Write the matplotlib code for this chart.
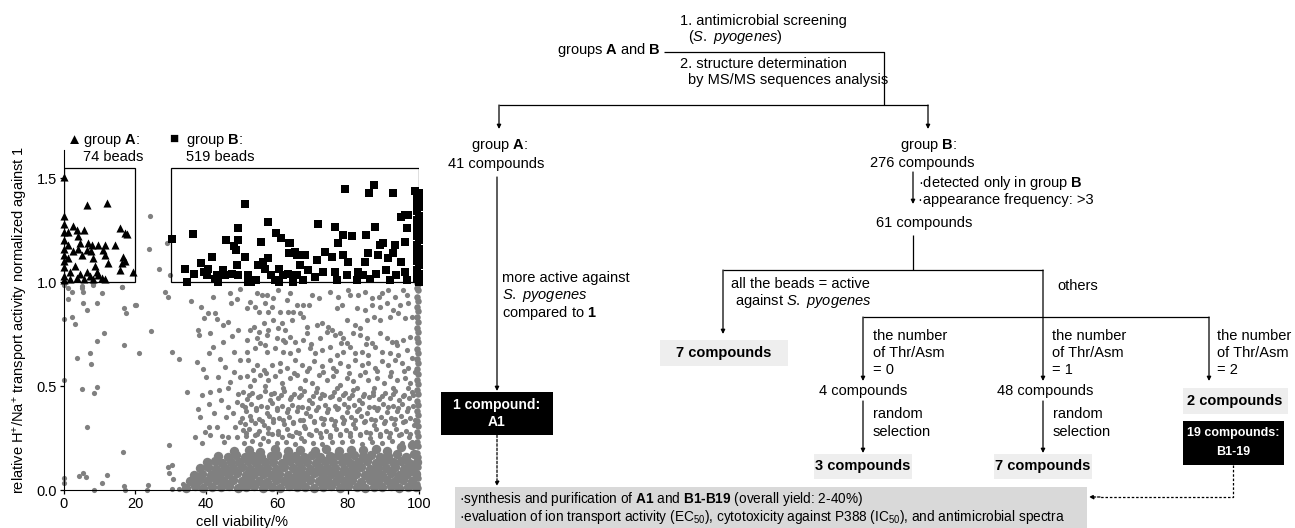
import numpy as np
import matplotlib.pyplot as plt
from matplotlib.patches import Rectangle

plt.rcParams['font.family'] = ['Liberation Sans', 'DejaVu Sans']
plt.rcParams['font.size'] = 10.5
plt.rcParams['mathtext.fontset'] = 'custom'
plt.rcParams['mathtext.rm'] = 'Liberation Sans'
plt.rcParams['mathtext.it'] = 'Liberation Sans:italic'
plt.rcParams['mathtext.bf'] = 'Liberation Sans:bold'

# ---- scatter data (cell viability %, relative transport activity) ----
# sparse grey beads on the left / between the boxes
sparse_x = [0.1, 1.2, 2.2, 1.0, 5.0, 5.4, 5.3, 8.3, 9.4, 10.6, 6.6, 16.2, 17.0, 17.4, 20.2, 0.1, 2.2, 3.1,
            11.4, 9.2, 24.5, 28.5, 29.4, 35.7, 17.0, 7.3, 21.2, 3.6, 7.5, 30.3, 32.4, 0.1, 5.2, 9.4, 8.5,
            6.6, 16.5, 4.3, 5.4, 6.2, 12.2, 10.8, 0.1, 0.1, 8.5, 17.0, 17.2, 23.8, 23.3, 29.6, 29.4, 30.5,
            29.6, 30.8, 30.3, 32.4, 33.6, 34.7, 37.6, 24.2, 24.0, 26.8, 28.9, 29.8, 16.4, 8.3, 5.0, 20.0]
sparse_y = [0.985, 0.97, 0.95, 0.92, 0.98, 0.95, 0.90, 0.985, 0.90, 0.945, 0.865, 0.975, 0.873, 0.853, 0.89,
            0.82, 0.83, 0.80, 0.753, 0.718, 0.766, 0.953, 0.926, 0.909, 0.697, 0.657, 0.657, 0.635, 0.604,
            0.665, 0.628, 0.529, 0.484, 0.494, 0.465, 0.305, 0.181, 0.067, 0.08, 0.064, 0.074, 0.032, 0.056,
            0.032, 0.0, 0.019, 0.0, 0.024, 0.0, 0.216, 0.112, 0.12, 0.083, 0.051, 0.003, 0.003, 0.027, 0.47,
            0.617, 1.317, 1.158, 1.062, 1.19, 1.036, 0.977, 0.993, 0.97, 0.89]

# grey cloud, 36-50 % viability
cloud_left_x = [38.5, 39.4, 40.7, 42.5, 42.0, 43.0, 46.8, 47.0, 49.6, 48.6, 37.8, 38.0, 41.1, 44.9, 46.3, 49.1,
                40.8, 44.0, 48.0, 49.6, 45.4, 47.9, 49.6, 40.0, 41.1, 38.8, 43.5, 44.1, 37.8, 38.3, 40.9, 46.3,
                48.6, 46.1, 48.9, 43.0, 40.9, 44.4, 48.2, 49.6, 36.9, 38.8, 41.1, 46.3, 48.6, 42.3, 45.6, 39.6,
                44.8, 47.4, 42.0, 46.9, 43.6, 39.1, 47.7, 45.0]
cloud_left_y = [0.88, 0.825, 0.85, 0.85, 0.93, 0.82, 0.946, 0.90, 0.966, 0.918, 0.77, 0.745, 0.756, 0.793, 0.81,
                0.77, 0.66, 0.628, 0.665, 0.625, 0.593, 0.566, 0.545, 0.545, 0.473, 0.457, 0.545, 0.433, 0.388,
                0.353, 0.412, 0.40, 0.425, 0.489, 0.462, 0.304, 0.304, 0.26, 0.304, 0.325, 0.256, 0.224, 0.264,
                0.256, 0.256, 0.37, 0.35, 0.28, 0.71, 0.74, 0.69, 0.52, 0.48, 0.58, 0.37, 0.23]

# grey cloud, 50-100 % viability, upper part
cloud_up_x = [54.3, 55.7, 57.1, 52.4, 53.8, 56.6, 59.0, 60.4, 63.7, 62.8, 65.6, 67.4, 68.9, 69.8, 71.7, 75.0,
              77.3, 80.1, 80.6, 78.2, 76.8, 82.9, 84.8, 86.7, 88.6, 89.5, 91.4, 93.3, 95.6, 96.5, 97.0, 94.7,
              92.8, 90.9, 89.0, 86.7, 84.8, 82.5,
              51.5, 54.8, 57.6, 58.5, 60.9, 63.2, 64.6, 66.5, 67.4, 68.4, 71.2, 72.6, 74.5, 75.4, 77.8, 79.7,
              82.0, 83.4, 85.3, 87.2, 89.0, 91.9, 94.2, 96.1, 97.9, 53.4, 56.2, 59.0, 61.3, 64.2, 62.3, 60.4,
              57.6, 54.8, 52.4,
              51.5, 54.3, 57.1, 59.9, 61.8, 63.7, 65.1, 67.4, 68.4, 72.1, 74.0, 76.4, 78.7, 79.7, 81.5, 83.4,
              85.3, 86.7, 89.0, 90.9, 92.3, 93.7, 95.6, 97.5, 51.5, 53.8, 56.6, 57.1, 59.5, 61.8, 63.7, 66.0,
              69.3, 70.7, 72.6, 75.0, 76.8, 78.7, 80.6, 82.0, 83.9, 85.7, 87.6, 89.5, 91.9, 94.2, 96.5, 97.9,
              51.9, 54.3, 56.2, 58.5, 60.9, 62.8, 65.1, 67.0, 68.9, 70.3, 72.6, 75.0, 75.9, 77.8, 80.1, 82.0,
              83.9, 85.7, 87.6, 89.5, 91.4, 93.3, 95.1, 97.0, 51.5, 53.4, 55.2, 57.6, 59.5, 61.3, 63.7, 65.6,
              67.9, 69.8, 71.7, 74.0, 75.9, 77.8, 79.7, 81.5, 83.4, 85.7, 88.1, 90.0, 91.9, 93.7, 96.1, 97.5,
              52.4, 56.6, 61.8, 66.5, 71.2, 76.8, 82.5, 87.2, 92.8, 97.0]
cloud_up_y = [0.946, 0.938, 0.938, 0.906, 0.882, 0.898, 0.922, 0.962, 0.946, 0.914, 0.890, 0.890, 0.890, 0.938,
              0.922, 0.954, 0.930, 0.962, 0.938, 0.890, 0.874, 0.938, 0.954, 0.922, 0.930, 0.946, 0.962, 0.930,
              0.962, 0.938, 0.898, 0.890, 0.866, 0.898, 0.882, 0.890, 0.866, 0.874,
              0.874, 0.858, 0.858, 0.882, 0.858, 0.858, 0.858, 0.850, 0.834, 0.786, 0.794, 0.802, 0.786, 0.770,
              0.754, 0.818, 0.794, 0.778, 0.818, 0.834, 0.818, 0.834, 0.850, 0.826, 0.834, 0.786, 0.802, 0.818,
              0.802, 0.818, 0.770, 0.778, 0.770, 0.762, 0.770,
              0.722, 0.730, 0.746, 0.730, 0.722, 0.738, 0.714, 0.722, 0.754, 0.730, 0.762, 0.746, 0.730, 0.706,
              0.754, 0.746, 0.730, 0.706, 0.754, 0.730, 0.714, 0.698, 0.722, 0.738, 0.666, 0.682, 0.698, 0.666,
              0.682, 0.666, 0.658, 0.674, 0.682, 0.658, 0.674, 0.690, 0.650, 0.666, 0.690, 0.658, 0.666, 0.650,
              0.690, 0.666, 0.658, 0.650, 0.674, 0.634,
              0.626, 0.602, 0.578, 0.602, 0.610, 0.586, 0.626, 0.602, 0.586, 0.618, 0.594, 0.626, 0.586, 0.610,
              0.594, 0.626, 0.602, 0.610, 0.586, 0.618, 0.602, 0.626, 0.610, 0.586, 0.546, 0.530, 0.554, 0.530,
              0.546, 0.514, 0.538, 0.554, 0.530, 0.514, 0.554, 0.530, 0.546, 0.506, 0.538, 0.522, 0.554, 0.530,
              0.538, 0.514, 0.546, 0.530, 0.538, 0.514,
              0.498, 0.498, 0.490, 0.490, 0.490, 0.490, 0.490, 0.490, 0.490, 0.490]

# grey cloud, 50-100 % viability, lower part (0.2-0.48)
cloud_low_x = [50.5, 53.0, 56.5, 59.2, 62.0, 64.8, 67.5, 70.9, 73.2, 76.0, 79.1, 81.4, 84.6, 87.0, 90.3, 93.1,
               95.8, 98.0, 51.6, 54.7, 57.9, 60.4, 63.6, 66.2, 69.1, 72.0, 74.8, 77.5, 80.2, 83.0, 85.9, 88.6,
               91.7, 94.4, 97.1, 50.2, 52.8, 55.6, 58.6, 61.3, 64.1, 67.0, 69.8, 73.5, 76.3, 78.9, 81.8, 84.0,
               87.4, 89.9, 92.6, 95.3, 98.3, 51.2, 54.0, 57.1, 59.9, 62.9, 65.6, 68.2, 71.1, 74.1, 77.0, 79.8,
               82.6, 85.3, 88.1, 91.0, 93.8, 96.5, 50.0, 52.5, 55.0, 57.8, 60.7, 63.3, 66.4, 69.3, 72.4, 75.2,
               78.2, 80.9, 83.7, 86.5, 89.4, 92.1, 94.9, 97.6, 51.0, 53.7, 56.4, 59.0, 61.9, 64.6, 67.6, 70.4,
               73.0, 76.0, 78.7, 81.5, 84.4, 87.2, 90.0, 92.9, 95.6, 98.5, 50.3, 52.2, 54.9, 57.5, 60.2, 62.7,
               65.3, 68.0, 70.9, 73.7, 76.6, 79.4, 82.1, 85.0, 87.8, 90.7, 93.4, 96.2, 51.4, 53.9, 56.1, 58.7,
               61.5, 64.2, 66.8, 69.5, 72.3, 75.0, 77.8, 80.5, 83.3, 86.1, 88.9, 91.6, 94.5, 97.3, 50.6, 52.9,
               55.3, 57.6, 60.0, 62.4, 65.0, 67.7, 70.2, 72.8, 75.6, 78.4, 81.1, 83.9, 86.7, 89.5, 92.4, 95.2,
               98.0]
cloud_low_y = [0.472, 0.465, 0.478, 0.468, 0.474, 0.462, 0.476, 0.469, 0.458, 0.473, 0.466, 0.479, 0.461, 0.471,
               0.467, 0.476, 0.459, 0.470, 0.440, 0.446, 0.434, 0.443, 0.437, 0.448, 0.432, 0.441, 0.445, 0.436,
               0.442, 0.431, 0.447, 0.438, 0.444, 0.435, 0.441, 0.408, 0.414, 0.402, 0.417, 0.405, 0.411, 0.399,
               0.416, 0.407, 0.403, 0.413, 0.409, 0.418, 0.401, 0.412, 0.406, 0.415, 0.404, 0.378, 0.384, 0.372,
               0.386, 0.375, 0.381, 0.370, 0.383, 0.377, 0.388, 0.374, 0.380, 0.371, 0.385, 0.376, 0.382, 0.379,
               0.348, 0.354, 0.342, 0.357, 0.345, 0.351, 0.339, 0.356, 0.347, 0.343, 0.353, 0.349, 0.358, 0.341,
               0.352, 0.346, 0.355, 0.344, 0.318, 0.324, 0.312, 0.327, 0.315, 0.321, 0.309, 0.326, 0.317, 0.313,
               0.323, 0.319, 0.328, 0.311, 0.322, 0.316, 0.325, 0.314, 0.288, 0.294, 0.282, 0.297, 0.285, 0.291,
               0.279, 0.296, 0.287, 0.283, 0.293, 0.289, 0.298, 0.281, 0.292, 0.286, 0.295, 0.284, 0.258, 0.264,
               0.252, 0.267, 0.255, 0.261, 0.249, 0.266, 0.257, 0.253, 0.263, 0.259, 0.268, 0.251, 0.262, 0.256,
               0.265, 0.254, 0.228, 0.234, 0.222, 0.237, 0.225, 0.231, 0.219, 0.236, 0.227, 0.223, 0.233, 0.229,
               0.238, 0.221, 0.232, 0.226, 0.235, 0.224, 0.230]

# extra beads filling the gaps between the rows of the cloud
cloud_mid_x = [52.1, 55.3, 58.2, 61.0, 64.0, 66.9, 70.0, 72.6, 75.6, 78.5, 81.2, 84.1, 87.0, 89.7, 92.7, 95.4,
               98.2, 50.9, 54.1, 57.2, 60.1, 63.1, 65.8, 68.7, 71.6, 74.4, 77.3, 80.0, 83.0, 85.8, 88.5, 91.3,
               94.2, 97.0, 52.6, 55.8, 58.9, 61.7, 64.5, 67.4, 70.5, 73.1, 76.2, 79.0, 81.9, 84.7, 87.6, 90.4,
               93.2, 96.0, 98.8, 51.3, 54.5, 57.4, 60.4, 63.4, 66.2, 69.0, 72.1, 74.9, 77.7, 80.6, 83.4, 86.3,
               89.1, 91.9, 94.8, 97.6, 53.2, 56.9, 60.8, 64.9, 68.5, 72.9, 76.7, 80.3, 84.8, 88.3, 92.0, 95.9,
               99.0, 55.1, 62.3, 69.6, 77.9, 85.2, 93.5]
cloud_mid_y = [0.457, 0.452, 0.460, 0.455, 0.449, 0.458, 0.453, 0.461, 0.450, 0.456, 0.459, 0.451, 0.457, 0.454,
               0.460, 0.452, 0.456, 0.397, 0.392, 0.400, 0.395, 0.389, 0.398, 0.393, 0.401, 0.390, 0.396, 0.399,
               0.391, 0.397, 0.394, 0.400, 0.392, 0.396, 0.337, 0.332, 0.340, 0.335, 0.329, 0.338, 0.333, 0.341,
               0.330, 0.336, 0.339, 0.331, 0.337, 0.334, 0.340, 0.332, 0.336, 0.272, 0.267, 0.275, 0.270, 0.264,
               0.273, 0.268, 0.276, 0.265, 0.271, 0.274, 0.266, 0.272, 0.269, 0.275, 0.267, 0.271, 0.575, 0.565,
               0.570, 0.562, 0.573, 0.567, 0.571, 0.563, 0.569, 0.574, 0.566, 0.572, 0.568, 0.705, 0.712, 0.700,
               0.708, 0.703, 0.710]

# dense band of inactive beads (drawn with larger dots)
band_x = [34.5, 36.8, 39.2, 41.6, 44.1, 46.4, 48.9, 51.3, 53.6, 56.0, 58.5, 60.8, 63.3, 65.7, 68.0, 70.5, 72.9,
          75.2, 77.7, 80.1, 82.4, 84.9, 87.3, 89.6, 92.1, 94.5, 96.8, 99.2,
          35.6, 38.0, 40.4, 42.9, 45.2, 47.7, 50.1, 52.4, 54.9, 57.3, 59.6, 62.1, 64.5, 66.8, 69.3, 71.7,
          74.0, 76.5, 78.9, 81.2, 83.7, 86.1, 88.4, 90.9, 93.3, 95.6, 98.1,
          36.7, 39.0, 41.5, 44.0, 46.3, 48.8, 51.2, 53.5, 56.0, 58.4, 60.7, 63.2, 65.6, 67.9, 70.4, 72.8,
          75.1, 77.6, 80.0, 82.3, 84.8, 87.2, 89.5, 92.0, 94.4, 96.7, 99.2,
          38.2, 40.5, 42.9, 45.3, 47.6, 50.1, 52.5, 54.8, 57.3, 59.7, 62.0, 64.5, 66.9, 69.2, 71.7, 74.1,
          76.4, 78.9, 81.3, 83.6, 86.1, 88.5, 90.8, 93.3, 95.7, 98.0,
          40.3, 42.4, 44.6, 47.0, 49.3, 51.7, 54.2, 56.5, 59.0, 61.3, 63.8, 66.2, 68.5, 71.0, 73.4, 75.7,
          78.2, 80.6, 82.9, 85.4, 87.8, 90.1, 92.6, 95.0, 97.3, 99.5,
          43.5, 46.2, 48.4, 50.9, 53.1, 55.6, 58.2, 60.1, 62.7, 65.0, 67.6, 69.8, 72.2, 74.9, 77.1, 79.5,
          81.7, 84.3, 86.6, 89.0, 91.4, 93.9, 96.2, 98.6,
          47.8, 52.0, 55.3, 59.4, 63.1, 66.4, 70.6, 73.9, 77.5, 80.9, 84.2, 87.9, 91.1, 94.8, 97.9]
band_y = [0.012, 0.018, 0.010, 0.016, 0.013, 0.019, 0.011, 0.015, 0.017, 0.012, 0.014, 0.010, 0.018, 0.013,
          0.016, 0.011, 0.015, 0.019, 0.012, 0.017, 0.014, 0.010, 0.016, 0.013, 0.018, 0.011, 0.015, 0.014,
          0.043, 0.048, 0.041, 0.046, 0.044, 0.049, 0.042, 0.047, 0.045, 0.040, 0.048, 0.043, 0.046, 0.041,
          0.049, 0.044, 0.047, 0.042, 0.045, 0.048, 0.040, 0.046, 0.043, 0.049, 0.041, 0.047, 0.044,
          0.074, 0.079, 0.072, 0.077, 0.075, 0.080, 0.073, 0.078, 0.076, 0.071, 0.079, 0.074, 0.077, 0.072,
          0.080, 0.075, 0.078, 0.073, 0.076, 0.079, 0.071, 0.077, 0.074, 0.080, 0.072, 0.078, 0.075,
          0.104, 0.109, 0.102, 0.107, 0.105, 0.110, 0.103, 0.108, 0.106, 0.101, 0.109, 0.104, 0.107, 0.102,
          0.110, 0.105, 0.108, 0.103, 0.106, 0.109, 0.101, 0.107, 0.104, 0.110, 0.102, 0.108,
          0.133, 0.138, 0.131, 0.136, 0.134, 0.139, 0.132, 0.137, 0.135, 0.130, 0.138, 0.133, 0.136, 0.131,
          0.139, 0.134, 0.137, 0.132, 0.135, 0.138, 0.130, 0.136, 0.133, 0.139, 0.131, 0.137,
          0.162, 0.158, 0.166, 0.160, 0.164, 0.157, 0.163, 0.168, 0.159, 0.165, 0.161, 0.167, 0.158, 0.163,
          0.169, 0.160, 0.166, 0.162, 0.170, 0.159, 0.165, 0.172, 0.161, 0.175,
          0.188, 0.192, 0.185, 0.195, 0.187, 0.193, 0.189, 0.196, 0.186, 0.194, 0.190, 0.197, 0.188, 0.205,
          0.215]

# beads piled up at 100 % viability
edge_x = [99.8, 99.3, 99.8, 99.3, 99.8, 99.3, 99.8, 99.3, 99.8, 99.3, 99.8, 99.3, 99.8, 99.3, 99.8, 99.3,
          99.8, 99.3, 99.8, 99.3, 99.8, 99.3, 99.8, 99.3, 99.8, 99.3, 99.8, 99.3, 99.8, 99.3, 99.8, 99.3,
          99.8, 99.3, 99.8, 99.3, 99.8, 99.3, 99.8, 99.3, 99.8, 99.3]
edge_y = [0.01, 0.03, 0.06, 0.08, 0.11, 0.13, 0.16, 0.18, 0.21, 0.23, 0.26, 0.28, 0.31, 0.33, 0.36, 0.38,
          0.41, 0.43, 0.46, 0.48, 0.51, 0.53, 0.56, 0.58, 0.61, 0.63, 0.66, 0.68, 0.71, 0.73, 0.76, 0.78,
          0.81, 0.83, 0.86, 0.88, 0.91, 0.93, 0.96, 0.97, 0.99, 0.995]

# group A beads (triangles)
tri_x = [0.0, 0.0, 0.0, 0.0, 0.0, 0.0, 0.0, 0.0, 0.0, 0.0, 0.0, 6.4, 12.2, 2.4, 3.6, 5.5, 3.9, 4.5, 6.9, 7.8,
         9.5, 11.5, 14.4, 15.8, 17.2, 17.7, 2.6, 3.9, 5.0, 6.4, 7.6, 11.0, 11.5, 16.7, 16.2, 17.2, 19.5, 8.3,
         12.5, 8.8, 3.1, 1.7, 4.5, 6.4, 9.2, 9.7, 10.6, 7.3, 3.6, 1.7, 11.5, 15.8, 1.2, 1.2, 1.2, 5.5, 8.3]
tri_y = [1.507, 1.32, 1.28, 1.24, 1.20, 1.16, 1.13, 1.10, 1.07, 1.03, 1.01, 1.37, 1.38, 1.27, 1.25, 1.25, 1.22,
         1.19, 1.19, 1.18, 1.18, 1.18, 1.18, 1.26, 1.235, 1.23, 1.147, 1.16, 1.13, 1.155, 1.15, 1.155, 1.13,
         1.12, 1.09, 1.10, 1.05, 1.115, 1.09, 1.075, 1.075, 1.05, 1.04, 1.05, 1.05, 1.035, 1.02, 1.03, 1.02,
         1.013, 1.013, 1.06, 1.115, 1.18, 1.24, 1.013, 1.013]

# group B beads (squares)
sq_x = [30.3, 36.4, 51.0, 49.1, 57.4, 59.7, 61.0, 63.4, 63.4, 65.5, 45.6, 49.1, 47.9, 48.4, 55.4, 51.0, 41.6,
        38.6, 34.1, 36.7, 40.7, 40.2, 34.6, 42.5, 44.9, 48.6, 45.3, 47.2, 49.1, 51.9, 52.8, 54.2, 54.6, 56.0,
        57.4, 56.5, 58.4, 59.3, 60.7, 61.6, 63.0, 64.4, 64.8, 43.0, 43.5, 51.9, 60.7, 39.5,
        79.2, 85.9, 87.3, 92.8, 98.9, 71.5, 76.3, 78.7, 81.0, 85.2, 87.5, 94.9, 96.0, 96.9, 96.5, 77.3, 89.0,
        89.9, 93.1, 96.0, 63.7, 65.1, 67.9, 71.2, 73.5, 75.4, 78.7, 80.1, 85.7, 84.7, 88.5, 91.3, 92.6, 95.0,
        66.5, 68.8, 73.0, 76.3, 79.7, 82.9, 84.3, 88.0, 90.8, 93.6, 96.0, 65.5, 70.7, 67.4, 76.8, 82.4, 86.1,
        91.7, 96.5,
        100.0, 99.3, 100.0, 99.3, 100.0, 99.3, 100.0, 99.3, 100.0, 99.3, 100.0, 99.3, 100.0, 99.3, 100.0,
        99.3, 100.0, 99.3, 100.0, 99.3, 100.0, 99.3, 100.0]
sq_y = [1.207, 1.229, 1.375, 1.26, 1.287, 1.234, 1.213, 1.186, 1.142, 1.13, 1.202, 1.202, 1.174, 1.154, 1.194,
        1.119, 1.119, 1.09, 1.065, 1.041, 1.065, 1.033, 1.0, 1.017, 1.057, 1.081, 1.033, 1.041, 1.033, 1.033,
        1.0, 1.009, 1.081, 1.098, 1.114, 1.065, 1.033, 1.009, 1.065, 1.033, 1.041, 1.0, 1.033, 1.033, 1.0,
        1.0, 1.0, 1.049,
        1.447, 1.426, 1.466, 1.426, 1.437, 1.277, 1.266, 1.226, 1.223, 1.226, 1.266, 1.314, 1.322, 1.322,
        1.258, 1.186, 1.178, 1.186, 1.178, 1.194, 1.186, 1.146, 1.13, 1.106, 1.146, 1.122, 1.13, 1.098,
        1.138, 1.098, 1.13, 1.114, 1.138, 1.098, 1.081, 1.057, 1.049, 1.049, 1.033, 1.049, 1.033, 1.041,
        1.057, 1.033, 1.049, 1.033, 1.025, 1.009, 1.009, 1.009, 1.017, 1.009, 1.009,
        1.00, 1.02, 1.04, 1.06, 1.08, 1.10, 1.12, 1.14, 1.16, 1.18, 1.20, 1.22, 1.24, 1.26, 1.28, 1.30, 1.32,
        1.34, 1.36, 1.38, 1.40, 1.42, 1.43]

GREY = '#808080'
FS = 10.5

fig = plt.figure(figsize=(12.95, 5.28), dpi=100)

# ---------------- scatter panel ----------------
ax = fig.add_axes([64 / 1295, 38 / 528, 355 / 1295, 340 / 528])
ax.scatter(sparse_x + cloud_left_x + cloud_up_x + cloud_low_x + cloud_mid_x,
           sparse_y + cloud_left_y + cloud_up_y + cloud_low_y + cloud_mid_y,
           s=14, color=GREY, linewidths=0, clip_on=False, zorder=2)
ax.scatter(band_x, band_y, s=46, color=GREY, linewidths=0, clip_on=False, zorder=2)
ax.scatter(edge_x, edge_y, s=22, color=GREY, linewidths=0, clip_on=False, zorder=2)
ax.scatter(tri_x, tri_y, s=34, marker='^', color='k', linewidths=0, clip_on=False, zorder=3)
ax.scatter(sq_x, sq_y, s=40, marker='s', color='k', linewidths=0, clip_on=False, zorder=3)

ax.add_patch(Rectangle((0, 1.0), 20, 0.55, fill=False, ec='k', lw=0.9, zorder=4))
ax.add_patch(Rectangle((30, 1.0), 70, 0.55, fill=False, ec='k', lw=0.9, zorder=4))

ax.set_xlim(0, 100)
ax.set_ylim(0, 1.635)
ax.set_xticks([0, 20, 40, 60, 80, 100])
ax.set_yticks([0.0, 0.5, 1.0, 1.5])
ax.set_yticklabels(['0.0', '0.5', '1.0', '1.5'])
ax.spines['top'].set_visible(False)
ax.spines['right'].set_visible(False)
ax.tick_params(direction='out', length=3, width=0.9, labelsize=FS, pad=2)
ax.set_xlabel('cell viability/%', fontsize=FS, labelpad=3)
ax.set_ylabel('relative H$^{+}$/Na$^{+}$ transport activity normalized against 1', fontsize=FS, labelpad=5)

ax.text(0.9, 1.683, '\u25b2', fontsize=11, va='center', ha='left', clip_on=False)
ax.text(5.4, 1.683, 'group $\\mathbf{A}$:', fontsize=FS, va='center', ha='left', clip_on=False)
ax.text(5.4, 1.60, '74 beads', fontsize=FS, va='center', ha='left', clip_on=False)
ax.text(29.6, 1.690, '\u25a0', fontsize=11, va='center', ha='left', clip_on=False)
ax.text(34.3, 1.683, 'group $\\mathbf{B}$:', fontsize=FS, va='center', ha='left', clip_on=False)
ax.text(34.3, 1.60, '519 beads', fontsize=FS, va='center', ha='left', clip_on=False)

# ---------------- flow chart (pixel coordinates) ----------------
fl = fig.add_axes([0, 0, 1, 1])
fl.set_xlim(0, 1295)
fl.set_ylim(528, 0)
fl.axis('off')
fl.patch.set_alpha(0)

LW = 0.9
DASH = (0, (2, 1.5))


def line(xs, ys, ls='-'):
    fl.plot(xs, ys, color='k', lw=LW, ls=ls, solid_capstyle='butt')


def arrow(x0, y0, x1, y1, ls='-'):
    fl.annotate('', xy=(x1, y1), xytext=(x0, y0),
                arrowprops=dict(arrowstyle='-|>', color='k', lw=LW, ls=ls,
                                mutation_scale=6, shrinkA=0, shrinkB=0))


def txt(x, y, s, ha='left', **kw):
    fl.text(x, y, s, ha=ha, va='center', fontsize=kw.pop('fontsize', FS), **kw)


def box(x0, y0, x1, y1, fc):
    fl.add_patch(Rectangle((x0, y0), x1 - x0, y1 - y0, fc=fc, ec='none'))


IT = '$\\mathit{S.\\ pyogenes}$'

# top
txt(661, 50, 'groups $\\mathbf{A}$ and $\\mathbf{B}$', ha='right')
line([664, 884, 884], [52, 52, 105])
txt(680, 21, '1. antimicrobial screening')
txt(688, 37, '(' + IT + ')')
txt(680, 64, '2. structure determination')
txt(688, 80, 'by MS/MS sequences analysis')
line([499, 928], [105, 105])
arrow(499, 105, 499, 129)
arrow(928, 105, 928, 129)

# group A branch
txt(499, 146, 'group $\\mathbf{A}$:', ha='center')
txt(496, 164, '41 compounds', ha='center')
arrow(497, 177, 497, 391)
txt(502, 278, 'more active against')
txt(502, 296, IT)
txt(502, 313, 'compared to $\\mathbf{1}$')
box(441, 392, 553, 435, 'black')
txt(497, 405, '1 compound:', ha='center', color='white', weight='bold', fontsize=10)
txt(497, 422, 'A1', ha='center', color='white', weight='bold', fontsize=10)
arrow(497, 435, 497, 486, ls=DASH)

# group B branch
txt(928, 146, 'group $\\mathbf{B}$:', ha='center')
txt(922, 163, '276 compounds', ha='center')
arrow(913, 172, 913, 204)
txt(918, 183, '\u00b7detected only in group $\\mathbf{B}$')
txt(918, 200, '\u00b7appearance frequency: >3')
txt(924, 223, '61 compounds', ha='center')
line([913, 913], [235, 270])
line([723, 1043], [270, 270])
arrow(723, 270, 723, 334)
txt(731, 284, 'all the beads = active')
txt(735, 301, 'against ' + IT)
box(660, 340, 788, 366, '#eeeeee')
txt(724, 353, '7 compounds', ha='center', weight='bold')
txt(1057, 286, 'others')
arrow(1043, 270, 1043, 381)
line([863, 1209], [317, 317])
arrow(863, 317, 863, 381)
arrow(1209, 317, 1209, 381)
for xt, n in [(873, '0'), (1052, '1'), (1217, '2')]:
    txt(xt, 336, 'the number')
    txt(xt, 353, 'of Thr/Asm')
    txt(xt, 370, '= ' + n)
txt(863, 391, '4 compounds', ha='center')
txt(1045, 391, '48 compounds', ha='center')
box(1183, 388, 1288, 414, '#eeeeee')
txt(1235, 401, '2 compounds', ha='center', weight='bold')

arrow(863, 401, 863, 453)
arrow(1043, 401, 1043, 453)
for xt in [873, 1053]:
    txt(xt, 414, 'random')
    txt(xt, 432, 'selection')
box(814, 454, 912, 479, '#eeeeee')
txt(863, 466, '3 compounds', ha='center', weight='bold')
box(994, 454, 1092, 479, '#eeeeee')
txt(1043, 466, '7 compounds', ha='center', weight='bold')

box(1183, 421, 1284, 465, 'black')
txt(1233, 433, '19 compounds:', ha='center', color='white', weight='bold', fontsize=9)
txt(1233, 452, 'B1-19', ha='center', color='white', weight='bold', fontsize=9)
line([1233, 1233, 1100], [465, 497, 497], ls=DASH)
arrow(1100, 497, 1089, 497, ls=DASH)

# bottom summary box
box(455, 487, 1087, 528, '#d9d9d9')
txt(459, 499, '\u00b7synthesis and purification of $\\mathbf{A1}$ and $\\mathbf{B1\u2010B19}$ (overall yield: 2-40%)',
    fontsize=9.8)
txt(459, 517, '\u00b7evaluation of ion transport activity (EC$_{50}$), cytotoxicity against P388 (IC$_{50}$), '
    'and antimicrobial spectra', fontsize=9.8)

fig.savefig('out.png', dpi=100)
